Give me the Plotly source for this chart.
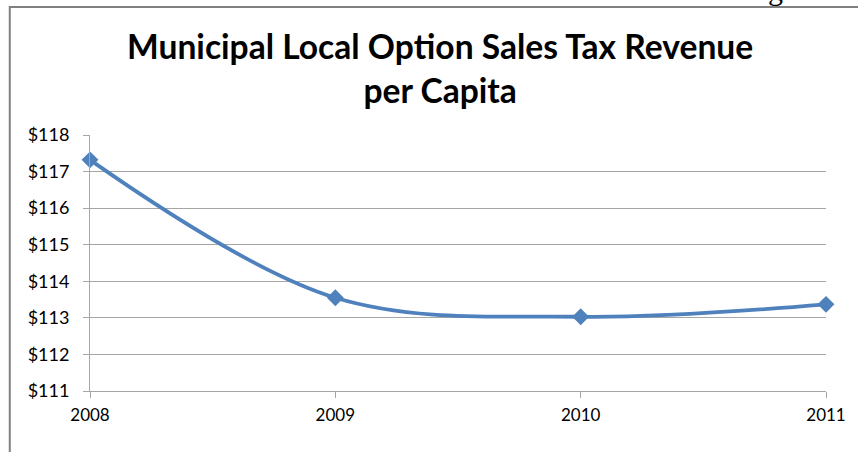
import plotly.graph_objects as go

# Local option sales tax revenue per capita, by year
years = [2008, 2009, 2010, 2011]
revenue = [117.32, 113.55, 113.03, 113.37]
y_ticks = [111, 112, 113, 114, 115, 116, 117, 118]
y_tick_text = ["$" + str(v) for v in y_ticks]
x_tick_text = [str(y) for y in years]

# zero-width non-joiner keeps the "ti" pair from forming a ligature
title_text = "Municipal Local Op\u200ction Sales Tax Revenue<br>per Capita"
line_color = "#4F81BD"
grid_color = "#A6A6A6"
font_family = "Lato, 'Open Sans', sans-serif"

fig = go.Figure()
fig.add_trace(go.Scatter(
    x=years,
    y=revenue,
    mode="lines+markers",
    line=dict(color=line_color, width=3.8, shape="spline", smoothing=1.0),
    marker=dict(symbol="diamond", size=13, color=line_color),
    cliponaxis=False,
    showlegend=False,
))

fig.update_layout(
    width=858,
    height=452,
    margin=dict(l=90, r=29, t=135, b=61),
    paper_bgcolor="white",
    plot_bgcolor="white",
    font=dict(family=font_family, size=18, color="#000000"),
    title=dict(
        text="<b>" + title_text + "</b>",
        x=0.513, xanchor="center",
        y=0.869, yanchor="middle",
        font=dict(family=font_family, size=33.6, color="#000000"),
    ),
    xaxis=dict(
        range=[2008, 2011],
        tickvals=years,
        ticktext=x_tick_text,
        showgrid=False,
        zeroline=False,
        showline=True,
        linecolor=grid_color,
        linewidth=1,
        ticks="outside",
        ticklen=6,
        tickcolor=grid_color,
        ticklabelstandoff=3,
        tickfont=dict(size=17),
    ),
    yaxis=dict(
        range=[111, 118],
        tickvals=y_ticks,
        ticktext=y_tick_text,
        showgrid=True,
        gridcolor=grid_color,
        gridwidth=1,
        zeroline=False,
        showline=True,
        linecolor=grid_color,
        linewidth=1,
        ticks="outside",
        ticklen=6,
        tickcolor=grid_color,
        ticklabelstandoff=10,
        tickfont=dict(size=18),
    ),
)

# Frame around the chart (top and left edges)
frame_color = "#808080"
fig.add_shape(type="line", xref="paper", yref="paper",
              x0=-0.109, x1=1.06, y0=1.500, y1=1.500,
              line=dict(color=frame_color, width=2))
fig.add_shape(type="line", xref="paper", yref="paper",
              x0=-0.109, x1=-0.109, y0=1.504, y1=-0.3,
              line=dict(color=frame_color, width=2))

# Page caption above the frame
fig.add_annotation(
    text="Figure 3", xref="paper", yref="paper",
    x=1.027, y=1.496, xanchor="right", yanchor="bottom",
    showarrow=False,
    font=dict(family="Liberation Serif, serif", size=30, color="#000000"),
)

fig.write_html("out.html")
